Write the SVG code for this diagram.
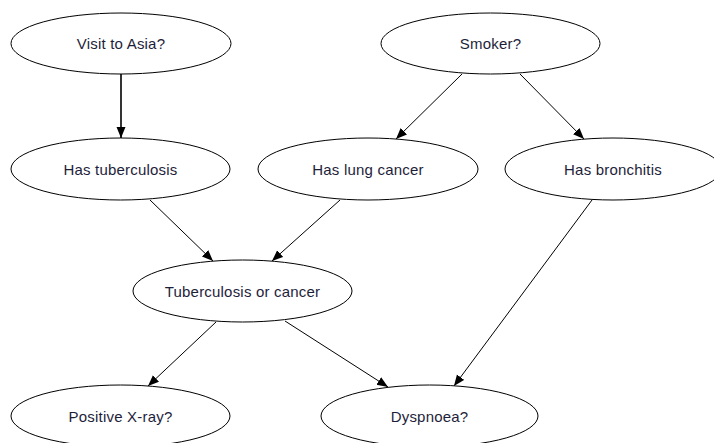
<svg xmlns="http://www.w3.org/2000/svg" width="714" height="443" viewBox="0 0 714 443">
  <style>
    .node ellipse { fill: #ffffff; stroke: #000000; stroke-width: 1; }
    .node text { font-family: "Liberation Sans", Arial, sans-serif; font-size: 15px; letter-spacing: 0.2px; fill: #1e1e3a; text-anchor: middle; }
    .edges line { stroke: #000000; stroke-width: 1; marker-end: url(#arrow); }
  </style>
  <defs>
    <marker id="arrow" markerUnits="userSpaceOnUse" markerWidth="12" markerHeight="10" refX="11" refY="4.5" orient="auto">
      <path d="M0,0 L11,4.5 L0,9 z" fill="#000000"/>
    </marker>
  </defs>
  <rect width="714" height="443" fill="#ffffff"/>

  <!-- directed links between variables -->
  <g id="edges" class="edges">
    <line x1="121" y1="74" x2="121" y2="138" style="stroke-width:1.6"/>
    <line x1="462" y1="74" x2="396" y2="139"/>
    <line x1="520" y1="74" x2="584" y2="139"/>
    <line x1="150" y1="200" x2="213" y2="261"/>
    <line x1="340" y1="200" x2="272" y2="261"/>
    <line x1="216" y1="322" x2="148" y2="386"/>
    <line x1="285" y1="321" x2="388" y2="387"/>
    <line x1="592" y1="200" x2="454" y2="386"/>
  </g>

  <g id="visit-asia" class="node">
    <ellipse cx="121" cy="43.5" rx="110" ry="30.5"/>
    <text x="121" y="49">Visit to Asia?</text>
  </g>
  <g id="smoker" class="node">
    <ellipse cx="490.5" cy="43.5" rx="109.5" ry="30.5"/>
    <text x="490.5" y="49">Smoker?</text>
  </g>
  <g id="tuberculosis" class="node">
    <ellipse cx="120.5" cy="169" rx="109.5" ry="31"/>
    <text x="120.5" y="174.5">Has tuberculosis</text>
  </g>
  <g id="lung-cancer" class="node">
    <ellipse cx="368" cy="169" rx="110" ry="31"/>
    <text x="368" y="174.5">Has lung cancer</text>
  </g>
  <g id="bronchitis" class="node">
    <ellipse cx="613" cy="169" rx="108" ry="31"/>
    <text x="613" y="174.5">Has bronchitis</text>
  </g>
  <g id="tub-or-cancer" class="node">
    <ellipse cx="242.5" cy="291" rx="109.5" ry="31"/>
    <text x="242.5" y="296.5">Tuberculosis or cancer</text>
  </g>
  <g id="xray" class="node">
    <ellipse cx="120.5" cy="416" rx="109.5" ry="31"/>
    <text x="120.5" y="421.5">Positive X-ray?</text>
  </g>
  <g id="dyspnoea" class="node">
    <ellipse cx="429.5" cy="416" rx="108.5" ry="31"/>
    <text x="429.5" y="421.5">Dyspnoea?</text>
  </g>
</svg>
